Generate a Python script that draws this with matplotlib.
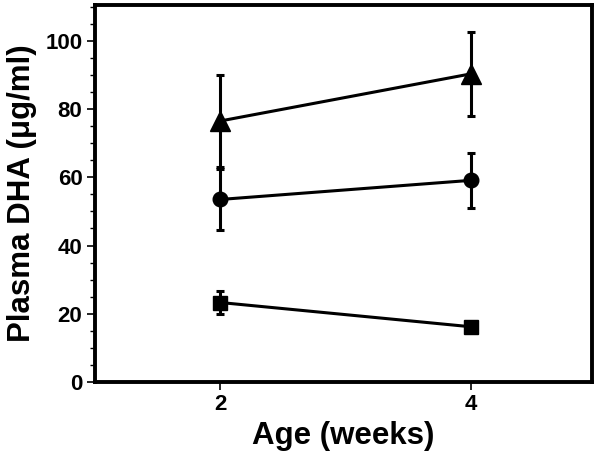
import matplotlib
matplotlib.use("Agg")
import matplotlib.pyplot as plt
from matplotlib.ticker import MultipleLocator

weeks = [2, 4]
triangle_mean = [76.5, 90.3]
triangle_err = [13.5, 12.3]
circle_mean = [53.5, 59.1]
circle_err = [9.0, 8.0]
square_mean = [23.3, 16.2]
square_err = [3.5, 1.4]
xticks = [2, 4]
yticks = [0, 20, 40, 60, 80, 100]

plt.rcParams['font.family'] = ['Liberation Sans', 'DejaVu Sans']
fig = plt.figure(figsize=(6.03, 4.59), dpi=100)
ax = fig.add_axes([95/603, 1-382/459, (592-95)/603, (382-5)/459])

common = dict(color='black', lw=2.2, elinewidth=2.2, capsize=3, capthick=2.2)
ax.errorbar(weeks, triangle_mean, yerr=triangle_err, marker='^', ms=14, **common)
ax.errorbar(weeks, circle_mean, yerr=circle_err, marker='o', ms=10.5, **common)
ax.errorbar(weeks, square_mean, yerr=square_err, marker='s', ms=10, **common)

ax.set_xlim(1.0, 4.97)
ax.set_ylim(0, 110.5)
ax.set_xticks(xticks)
ax.set_yticks(yticks)
ax.yaxis.set_minor_locator(MultipleLocator(5))
for s in ax.spines.values():
    s.set_linewidth(2.8)
ax.tick_params(axis='both', which='major', direction='out', length=6, width=1.2,
               labelsize=16, pad=3)
ax.tick_params(axis='y', which='minor', direction='out', length=3.5, width=1.0)
for lab in ax.get_xticklabels() + ax.get_yticklabels():
    lab.set_fontweight('bold')
ax.set_xlabel('Age (weeks)', fontsize=22.5, fontweight='bold', labelpad=4)
ax.set_ylabel('Plasma DHA (μg/ml)', fontsize=22.5, fontweight='bold', labelpad=6)

fig.savefig('out.png', dpi=100)
